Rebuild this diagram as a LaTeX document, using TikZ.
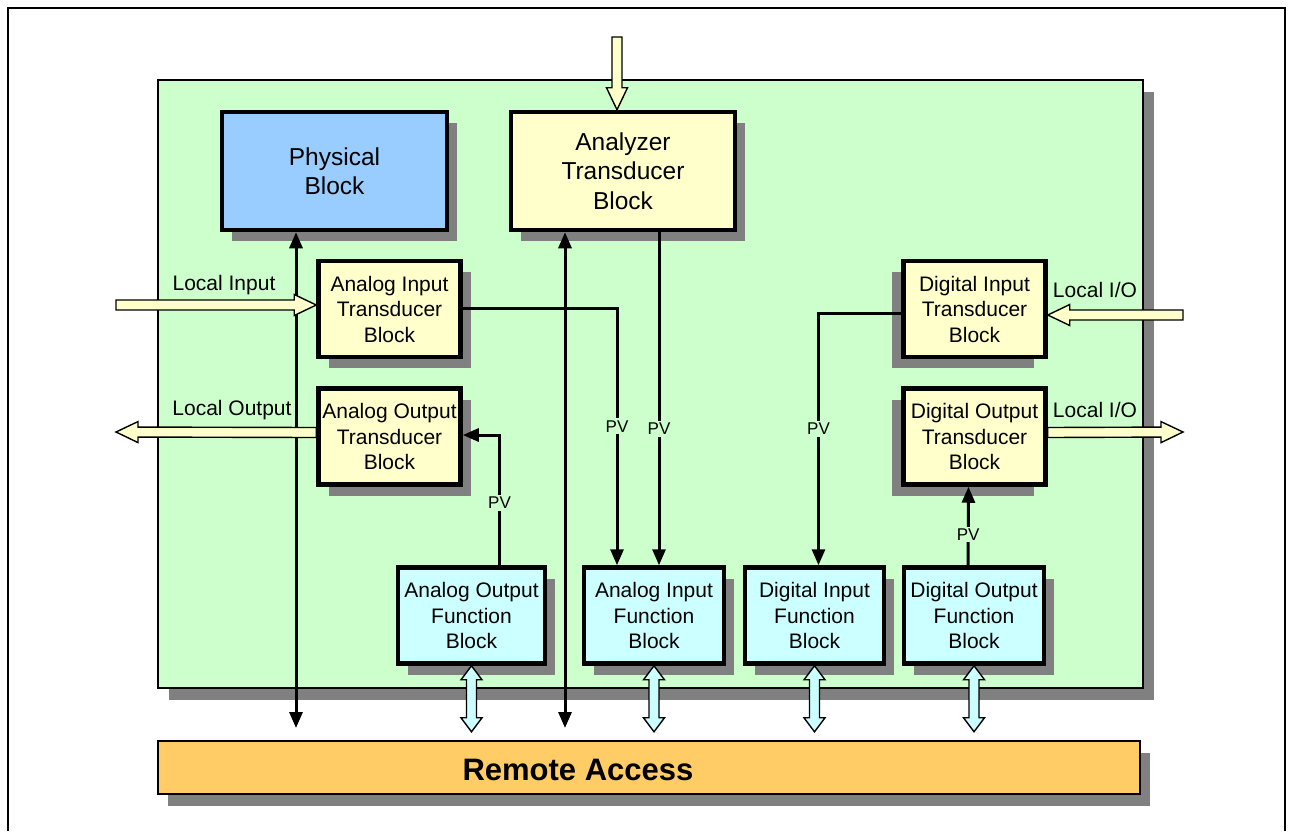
\documentclass[tikz,border=0pt]{standalone}
\usepackage{fontspec}
\setmainfont{Liberation Sans}
\usepackage{tikz}
\usetikzlibrary{calc,positioning,shadows,arrows.meta}
\definecolor{panelgreen}{RGB}{204,255,204}
\definecolor{physblue}{RGB}{153,204,255}
\definecolor{tdyellow}{RGB}{255,255,204}
\definecolor{fbcyan}{RGB}{204,255,255}
\definecolor{remoteorange}{RGB}{255,204,102}
\definecolor{shadowgray}{RGB}{128,128,128}
\tikzset{
	>={Triangle[length=16pt,width=13pt]},
	x=1pt, y=-1pt,
	rshadow/.style={drop shadow={shadow xshift=10pt, shadow yshift=-11pt, fill=shadowgray, opacity=1}},
	lshadow/.style={drop shadow={shadow xshift=-12pt, shadow yshift=-11pt, fill=shadowgray, opacity=1}},
}
\newcommand\fatshaft{5pt}
\newcommand\fathead{10.5pt}
\newcommand\fatlen{22pt}
\newcommand\fatlenshort{14pt}
% fat hollow arrow, head at #3
\newcommand\fatarrow[3]{%
	\filldraw[fat, fill=#1] ($(#2)!\fatshaft!90:(#3)$)
		-- ($(#3)!\fatlen!(#2)!\fatshaft!90:(#3)$)
		-- ($(#3)!\fatlen!(#2)!\fathead!90:(#3)$)
		-- (#3)
		-- ($(#3)!\fatlen!(#2)!\fathead!-90:(#3)$)
		-- ($(#3)!\fatlen!(#2)!\fatshaft!-90:(#3)$)
		-- ($(#2)!\fatshaft!-90:(#3)$) -- cycle;}
% fat hollow arrow, heads at both ends
\newcommand\fatdouble[3]{%
	\filldraw[fat, fill=#1] (#2)
		-- ($(#2)!\fatlenshort!(#3)!\fathead!90:(#3)$)
		-- ($(#2)!\fatlenshort!(#3)!\fatshaft!90:(#3)$)
		-- ($(#3)!\fatlenshort!(#2)!\fatshaft!90:(#3)$)
		-- ($(#3)!\fatlenshort!(#2)!\fathead!90:(#3)$)
		-- (#3)
		-- ($(#3)!\fatlenshort!(#2)!\fathead!-90:(#3)$)
		-- ($(#3)!\fatlenshort!(#2)!\fatshaft!-90:(#3)$)
		-- ($(#2)!\fatlenshort!(#3)!\fatshaft!-90:(#3)$)
		-- ($(#2)!\fatlenshort!(#3)!\fathead!-90:(#3)$) -- cycle;}

\begin{document}
\begin{tikzpicture}[
		blk/.style={draw, line width=4.5pt, inner sep=0pt, align=center,
			minimum width=142pt, minimum height=96pt,
			font=\fontsize{21}{25.5}\selectfont},
		bigblk/.style={blk, minimum width=225pt, minimum height=118pt,
			font=\fontsize{24.5}{29.5}\selectfont},
		transd/.style={blk, fill=tdyellow},
		funcb/.style={blk, fill=fbcyan, rshadow},
		conn/.style={line width=3pt},
		pv/.style={fill=panelgreen, inner sep=2pt, font=\fontsize{17}{20}\selectfont},
		io/.style={font=\fontsize{21}{25.5}\selectfont},
		fat/.style={line width=1.4pt}
	]
	\useasboundingbox (0,0) rectangle (1293,831);
	\draw[line width=1.5pt] (8,831) -- (8,8) -- (1285,8) -- (1285,831);

	\node[draw, line width=1.6pt, fill=panelgreen, minimum width=985pt, minimum height=608pt,
		drop shadow={shadow xshift=11pt, shadow yshift=-12pt, fill=shadowgray, opacity=1}] (panel) at (650.5,384) {};
	\node[draw, line width=1.6pt, fill=remoteorange, minimum width=982pt, minimum height=53pt,
		drop shadow={shadow xshift=10pt, shadow yshift=-12pt, fill=shadowgray, opacity=1}] (remote) at (649,767.5) {};
	\node[font=\bfseries\fontsize{31}{36}\selectfont] (remotetxt) at ([xshift=-71pt,yshift=-2pt]remote.center) {Remote Access};

	\node[bigblk, fill=physblue, rshadow] (phys) at (334.5,171) {Physical\\Block};
	\node[bigblk, fill=tdyellow, rshadow, minimum width=224pt] (ana) at (623,171) {Analyzer\\Transducer\\Block};

	\node[transd, rshadow] (ait) at (389.5,309) {Analog Input\\Transducer\\Block};
	\node[transd, rshadow] (aot) at (389.5,436.5) {Analog Output\\Transducer\\Block};
	\node[transd, lshadow] (dit) at (974.5,309) {Digital Input\\Transducer\\Block};
	\node[transd, lshadow] (dot) at (974.5,436.5) {Digital Output\\Transducer\\Block};

	\node[funcb, minimum width=147pt] (aof) at (471.5,615.5) {Analog Output\\Function\\Block};
	\node[funcb, minimum width=140pt] (aif) at (654,615.5) {Analog Input\\Function\\Block};
	\node[funcb, minimum width=139pt] (dif) at (814.5,615.5) {Digital Input\\Function\\Block};
	\node[funcb, minimum width=140pt] (dof) at (974,615.5) {Digital Output\\Function\\Block};

	\coordinate (physend) at (296,728);
	\coordinate (anaend) at (565,728);
	\draw[conn,<->] ([xshift=-38.5pt]phys.south) -- (physend);
	\draw[conn,<->] ([xshift=-58pt]ana.south) -- (anaend);

	\draw[conn,->] ([xshift=36pt]ana.south) -- node[pv,pos=0.59] {PV} ([xshift=5pt]aif.north);
	\draw[conn,->] ([yshift=1pt]ait.east) -| node[pv,pos=0.73] {PV} ([xshift=-37pt]aif.north);
	\draw[conn,->] ([yshift=-4pt]dit.west) -| node[pv,pos=0.73] {PV} ([xshift=4pt]dif.north);
	\draw[conn,->] ([xshift=28pt]aof.north) |- node[pv,pos=0.24] {PV} ([yshift=1.5pt]aot.east);
	\draw[conn,->] ([xshift=-6pt]dof.north) -- node[pv,pos=0.39] {PV} ([xshift=-6pt]dot.south);

	\coordinate (topin) at (617,37);
	\coordinate (anatop) at ([xshift=-6pt]ana.north);
	\fatarrow{tdyellow}{topin}{anatop}

	\coordinate (locin) at (116,305);
	\coordinate (aitin) at ([yshift=4pt]ait.west);
	\fatarrow{tdyellow}{locin}{aitin}
	\node[io] (locinlbl) at (224,285) {Local Input};

	\coordinate (aotout) at ([yshift=4pt]aot.west);
	\coordinate (locout) at (116,432);
	\fatarrow{tdyellow}{aotout}{locout}
	\node[io] (locoutlbl) at (232,410) {Local Output};

	\coordinate (ioin) at (1183,315);
	\coordinate (ditin) at ([yshift=-6pt]dit.east);
	\fatarrow{tdyellow}{ioin}{ditin}
	\node[io] (ioinlbl) at (1095,290) {Local I/O};

	\coordinate (dotout) at ([yshift=4pt]dot.east);
	\coordinate (ioout) at (1183,432);
	\fatarrow{tdyellow}{dotout}{ioout}
	\node[io] (iooutlbl) at (1095,410) {Local I/O};

	\foreach \fb in {aof,aif,dif,dof}{
		\coordinate (\fb end) at ([yshift=-66pt]\fb.south);
		\fatdouble{fbcyan}{\fb.south}{\fb end}
	}
\end{tikzpicture}
\end{document}
